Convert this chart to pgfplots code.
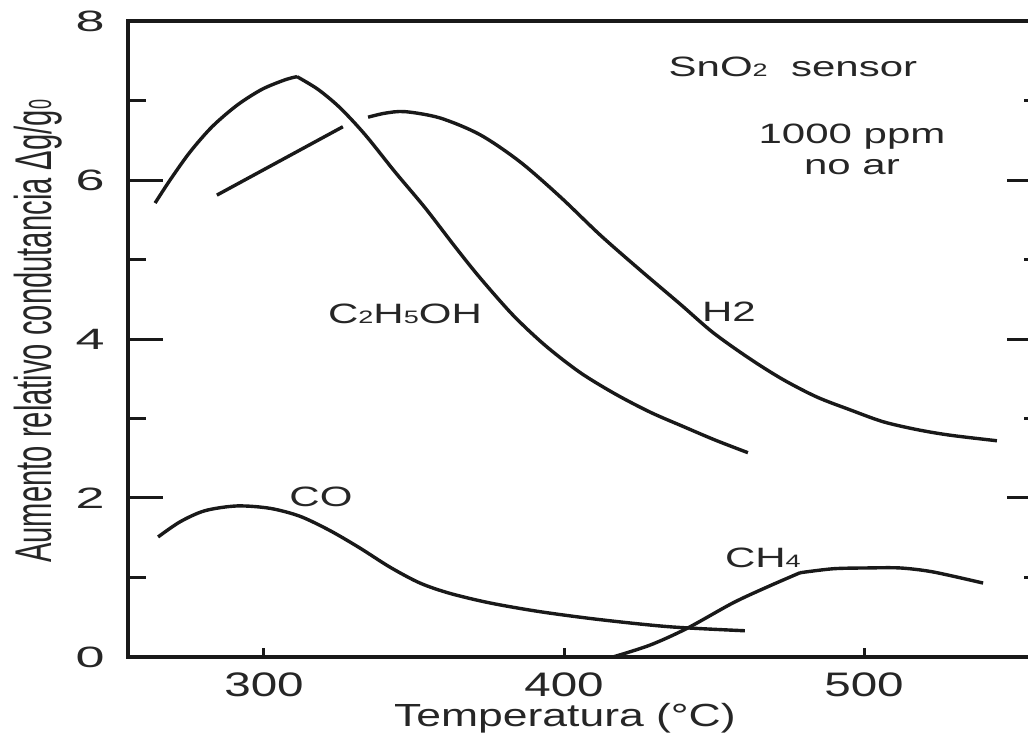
\documentclass[border=0pt]{standalone}
\usepackage{pgfplots}
\pgfplotsset{compat=1.18}
\usepackage{fontspec}
\setmainfont{Liberation Sans}
\usepackage{graphicx}
\newcommand{\sub}[1]{{\fontsize{9}{9}\selectfont #1}}
\newcommand{\xs}[1]{\scalebox{1.4}[1]{#1}}
\newcommand{\ys}[1]{\scalebox{1.77}[1]{#1}}
\newcommand{\an}[1]{\scalebox{1.5}[1]{#1}}
\begin{document}
\begin{tikzpicture}
\useasboundingbox (0,0) rectangle (514pt,366.5pt);
\clip (0,0) rectangle (514pt,366.5pt);
\begin{axis}[
  at={(64pt,38pt)}, anchor=south west,
  scale only axis, width=457pt, height=318pt,
  xmin=254.67, xmax=559.33, ymin=0, ymax=8,
  axis line style={line width=1.6pt, black!90},
  tick align=inside,
  xtick={300,400,500},
  xticklabels={\xs{300},\xs{400},\xs{500}},
  xtick pos=left,
  ytick={0,2,4,6,8},
  yticklabels={\ys{0},\ys{2},\ys{4},\ys{6},\ys{8}},
  minor ytick={1,3,5,7},
  ytick pos=both,
  major tick length=17.5pt, minor tick length=9pt,
  tick style={line width=1.5pt, black!90},
  xtick style={/pgfplots/major tick length=4.5pt},
  xticklabel style={font=\fontsize{17}{17}\selectfont, inner sep=0pt, anchor=north, yshift=-7.5pt, text=black!85},
  yticklabel style={font=\fontsize{14.7}{15}\selectfont, inner sep=0pt, anchor=east, xshift=-11.5pt, text=black!85},
  xlabel={\scalebox{1.39}[1]{Temperatura (°C)}},
  xlabel style={at={(axis description cs:0.478,0)}, anchor=base, yshift=-35pt, font=\fontsize{16}{16}\selectfont, inner sep=0pt, text=black!85},
  ylabel={\scalebox{1}[1.77]{Aumento relativo condutancia Δg/g\sub{0}}},
  ylabel style={at={(axis description cs:-0.0842,0.512)}, anchor=base, rotate=0, font=\fontsize{14.6}{15}\selectfont, inner sep=0pt, text=black!85},
  clip=false,
]
% C2H5OH rising to peak
\addplot[line width=1.7pt, black!90, smooth] coordinates {
 (263.7,5.71) (268.7,6.00) (275.3,6.35) (282.7,6.67) (291.0,6.94) (299.3,7.14) (307.0,7.26) (311.0,7.30)
};
% C2H5OH falling from peak
\addplot[line width=1.7pt, black!90, smooth] coordinates {
 (311.0,7.30) (318.0,7.14) (325.3,6.91) (333.7,6.57) (343.7,6.10) (353.7,5.65) (363.7,5.16)
 (372.0,4.77) (383.0,4.30) (393.7,3.92) (405.3,3.58) (417.0,3.31) (428.7,3.08)
 (439.7,2.90) (450.3,2.73) (461.3,2.57)
};
% H2 first segment
\addplot[line width=1.7pt, black!90] coordinates {(284.3,5.81) (326.3,6.67)};
% H2 main
\addplot[line width=1.7pt, black!90, smooth] coordinates {
 (334.7,6.79) (340.3,6.84) (347.0,6.86) (358.7,6.78) (372.0,6.57) (385.3,6.23) (398.7,5.79)
 (412.0,5.31) (425.3,4.87) (438.7,4.44) (449.7,4.08) (462.0,3.75)
 (473.0,3.49) (484.3,3.27) (495.3,3.11) (506.3,2.96) (517.7,2.86) (528.7,2.79) (544.3,2.72)
};
% CO
\addplot[line width=1.7pt, black!90, smooth] coordinates {
 (264.7,1.51) (272.0,1.70) (280.3,1.84) (291.0,1.90) (302.0,1.87) (312.0,1.77) (322.0,1.59)
 (332.0,1.37) (342.0,1.13) (352.0,0.93) (362.0,0.80) (375.3,0.68) (392.0,0.57) (412.0,0.47)
 (435.3,0.38) (460.3,0.33)
};
% CH4 rising
\addplot[line width=1.7pt, black!90, smooth] coordinates {
 (416.3,0.0) (428.7,0.15) (441.0,0.36) (456.3,0.68) (467.7,0.88) (478.7,1.06)
};
% CH4 plateau
\addplot[line width=1.7pt, black!90, smooth] coordinates {
 (478.7,1.06) (489.7,1.11) (501.0,1.12) (512.0,1.12) (523.0,1.07) (539.7,0.93)
};
\begin{scope}[every node/.style={font=\fontsize{14}{14}\selectfont, anchor=base, inner sep=0pt, text=black!85}]
\node at (axis cs:476.3,7.296) {\an{SnO\sub{2}\ \ sensor}};
\node at (axis cs:496.0,6.465) {\an{1000 ppm}};
\node at (axis cs:496.0,6.063) {\an{no ar}};
\node at (axis cs:347.0,4.201) {\an{C\sub{2}H\sub{5}OH}};
\node at (axis cs:455.0,4.214) {\an{H2}};
\node at (axis cs:319.0,1.887) {\an{CO}};
\node at (axis cs:466.3,1.132) {\an{CH\sub{4}}};
\end{scope}
\end{axis}
\end{tikzpicture}
\end{document}
